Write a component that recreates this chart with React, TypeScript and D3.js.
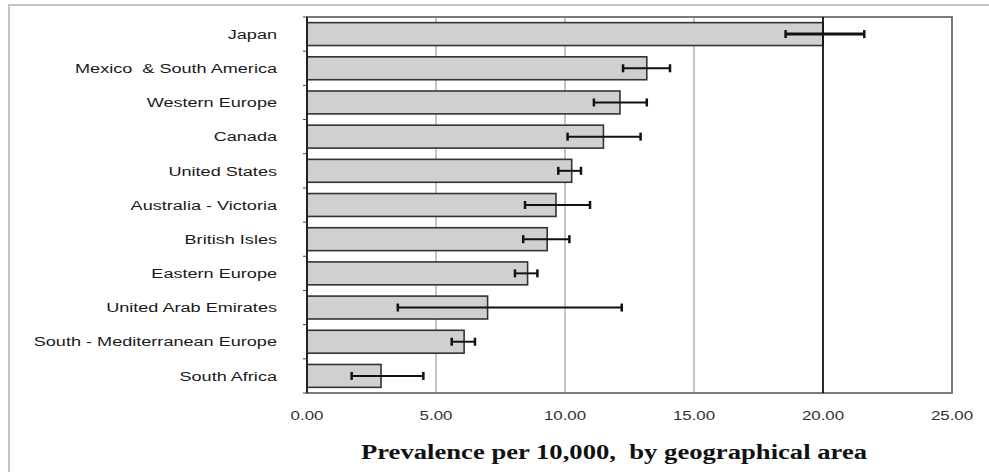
import React, { useEffect, useRef } from "react";
import * as d3 from "d3";

const regions = [
  "Japan",
  "Mexico  & South America",
  "Western Europe",
  "Canada",
  "United States",
  "Australia - Victoria",
  "British Isles",
  "Eastern Europe",
  "United Arab Emirates",
  "South - Mediterranean Europe",
  "South Africa",
];
const prevalence = [20.0, 13.17, 12.13, 11.49, 10.26, 9.65, 9.31, 8.55, 7.0, 6.09, 2.87];
const lowerCI = [18.55, 12.25, 11.12, 10.1, 9.74, 8.45, 8.38, 8.06, 3.52, 5.61, 1.73];
const upperCI = [21.6, 14.07, 13.17, 12.93, 10.62, 10.97, 10.17, 8.93, 12.2, 6.51, 4.51];
const xTicks = [0, 5, 10, 15, 20, 25];
const refLine = 20;
const axisTitle = "Prevalence per 10,000,  by geographical area";

interface Row {
  region: string;
  value: number;
  lo: number;
  hi: number;
}

const rows: Row[] = regions.map((r, i) => ({
  region: r,
  value: prevalence[i],
  lo: lowerCI[i],
  hi: upperCI[i],
}));

const W = 989;
const H = 472;
const stretch = 1.3; // the source picture is stretched sideways

const App: React.FC = () => {
  const ref = useRef<SVGSVGElement | null>(null);

  useEffect(() => {
    if (!ref.current) return;
    const svg = d3.select(ref.current);
    svg.selectAll("*").remove();

    const margin = { top: 17, right: 37, bottom: 79, left: 307 };
    const width = W - margin.left - margin.right;
    const height = H - margin.top - margin.bottom;

    // outer frame
    svg.append("path")
      .attr("d", `M9,${H} V5 H${W}`)
      .attr("fill", "none")
      .attr("stroke", "#c4c4c4")
      .attr("stroke-width", 2);

    const g = svg.append("g").attr("transform", `translate(${margin.left},${margin.top})`);

    const x = d3.scaleLinear().domain([0, 25]).range([0, width]);
    const y = d3.scaleBand().domain(regions).range([0, height]).paddingInner(0.33).paddingOuter(0.165);

    // gridlines
    g.selectAll(".grid")
      .data(xTicks.filter((t) => t > 0 && t < 25 && t !== refLine))
      .enter()
      .append("line")
      .attr("x1", (d) => x(d))
      .attr("x2", (d) => x(d))
      .attr("y1", 0)
      .attr("y2", height)
      .attr("stroke", "#8a8a8a")
      .attr("stroke-width", 1);

    // plot border
    g.append("rect")
      .attr("x", 0)
      .attr("y", 0)
      .attr("width", width)
      .attr("height", height)
      .attr("fill", "none")
      .attr("stroke", "#7a7a7a")
      .attr("stroke-width", 2);

    // bars
    g.selectAll(".bar")
      .data(rows)
      .enter()
      .append("rect")
      .attr("x", 0)
      .attr("y", (d) => y(d.region)!)
      .attr("width", (d) => x(d.value))
      .attr("height", y.bandwidth())
      .attr("fill", "#d0d0d0")
      .attr("stroke", "#333")
      .attr("stroke-width", 1.6);

    // reference line at 20
    g.append("line")
      .attr("x1", x(refLine))
      .attr("x2", x(refLine))
      .attr("y1", 0)
      .attr("y2", height)
      .attr("stroke", "#111")
      .attr("stroke-width", 1.8);

    // error bars
    const eb = g.selectAll(".err").data(rows).enter().append("g");
    const cy = (d: Row) => y(d.region)! + y.bandwidth() / 2;
    eb.append("line")
      .attr("x1", (d) => x(d.lo))
      .attr("x2", (d) => x(d.hi))
      .attr("y1", cy)
      .attr("y2", cy)
      .attr("stroke", "#111")
      .attr("stroke-width", (d, i) => (i === 0 ? 3 : 2));
    [(d: Row) => d.lo, (d: Row) => d.hi].forEach((acc) => {
      eb.append("line")
        .attr("x1", (d) => x(acc(d)))
        .attr("x2", (d) => x(acc(d)))
        .attr("y1", (d) => cy(d) - 4)
        .attr("y2", (d) => cy(d) + 4)
        .attr("stroke", "#111")
        .attr("stroke-width", 2.5);
    });

    // y axis line and ticks at band edges
    g.append("line")
      .attr("x1", 0)
      .attr("x2", 0)
      .attr("y1", 0)
      .attr("y2", height)
      .attr("stroke", "#222")
      .attr("stroke-width", 2);
    const step = y.step();
    g.selectAll(".ytick")
      .data(d3.range(regions.length + 1))
      .enter()
      .append("line")
      .attr("x1", -4)
      .attr("x2", 0)
      .attr("y1", (i) => i * step + (height - step * regions.length) / 2)
      .attr("y2", (i) => i * step + (height - step * regions.length) / 2)
      .attr("stroke", "#444")
      .attr("stroke-width", 1);

    // category labels
    g.selectAll(".ylab")
      .data(rows)
      .enter()
      .append("text")
      .attr("transform", (d) => `translate(-30,${cy(d)}) scale(1.34,1)`)
      .attr("text-anchor", "end")
      .attr("dy", "0.35em")
      .style("font-family", "Arial, 'Liberation Sans', sans-serif")
      .style("font-size", "13.5px")
      .style("white-space", "pre")
      .attr("fill", "#1a1a1a")
      .text((d) => d.region);

    // x tick labels
    g.selectAll(".xlab")
      .data(xTicks)
      .enter()
      .append("text")
      .attr("transform", (d) => `translate(${x(d)},${height + 22}) scale(${stretch},1)`)
      .attr("text-anchor", "middle")
      .attr("dy", "0.35em")
      .style("font-family", "Arial, 'Liberation Sans', sans-serif")
      .style("font-size", "13px")
      .attr("fill", "#333")
      .text((d) => d.toFixed(2));

    // axis title
    g.append("text")
      .attr("transform", `translate(${(360 + 868) / 2 - margin.left},${height + 59}) scale(${stretch},1)`)
      .attr("text-anchor", "middle")
      .attr("dy", "0.35em")
      .style("font-family", "'Times New Roman', 'Liberation Serif', serif")
      .style("font-size", "20.5px")
      .style("font-weight", "bold")
      .style("white-space", "pre")
      .attr("fill", "#111")
      .text(axisTitle);
  }, []);

  return (
    <svg
      ref={ref}
      width={W}
      height={H}
      style={{ position: "absolute", left: 0, top: 0, background: "#fff" }}
    />
  );
};

export default App;
